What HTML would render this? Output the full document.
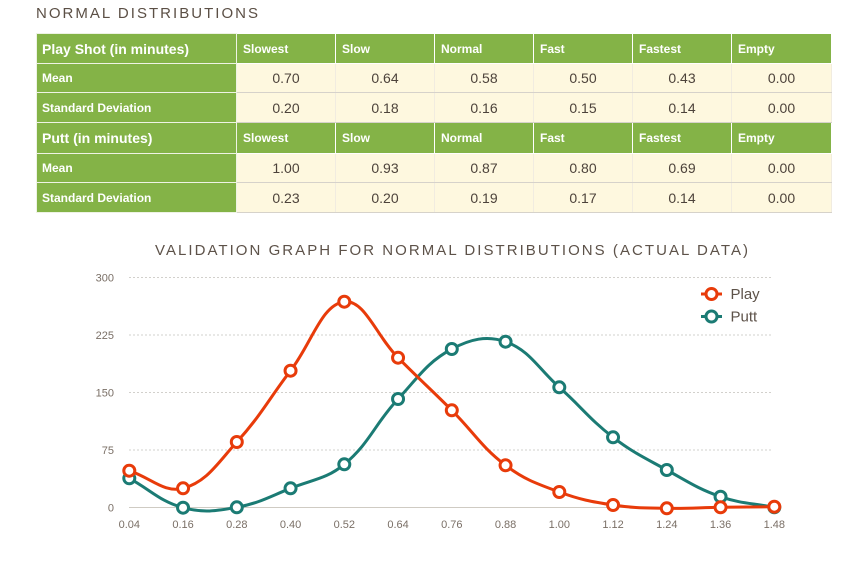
<!DOCTYPE html>
<html><head><meta charset="utf-8">
<style>
html,body{margin:0;padding:0;background:#fff;}
body{width:850px;height:584px;position:relative;overflow:hidden;font-family:"Liberation Sans",sans-serif;}
table{position:absolute;left:36px;top:33px;width:795px;border-collapse:collapse;table-layout:fixed;}
td{padding:0;vertical-align:middle;white-space:nowrap;overflow:hidden;}
td.g{background:#84b347;color:#fff;border:1px solid #eef3e4;padding-left:5px;font-weight:bold;font-size:12px;}
td.h{font-size:14px;}
td.c{background:#84b347;color:#fff;border:1px solid #ffffff;padding-left:6px;font-weight:bold;font-size:12px;}
td.v{background:#fef8df;color:#4d433b;text-align:center;font-size:14px;border-top:1px solid #d6d2ca;border-bottom:1px solid #d6d2ca;border-left:1px solid #f1ece0;border-right:1px solid #f1ece0;}
svg{position:absolute;left:0;top:0;}
</style></head><body>
<table>
<colgroup><col style="width:200px"><col style="width:99px"><col style="width:99px"><col style="width:99px"><col style="width:99px"><col style="width:99px"><col style="width:100px"></colgroup>
<tr style="height:30px"><td class="g h">Play Shot (in minutes)</td><td class="c">Slowest</td><td class="c">Slow</td><td class="c">Normal</td><td class="c">Fast</td><td class="c">Fastest</td><td class="c">Empty</td></tr>
<tr style="height:29px"><td class="g">Mean</td><td class="v">0.70</td><td class="v">0.64</td><td class="v">0.58</td><td class="v">0.50</td><td class="v">0.43</td><td class="v">0.00</td></tr>
<tr style="height:30px"><td class="g">Standard Deviation</td><td class="v">0.20</td><td class="v">0.18</td><td class="v">0.16</td><td class="v">0.15</td><td class="v">0.14</td><td class="v">0.00</td></tr>
<tr style="height:31px"><td class="g h">Putt (in minutes)</td><td class="c">Slowest</td><td class="c">Slow</td><td class="c">Normal</td><td class="c">Fast</td><td class="c">Fastest</td><td class="c">Empty</td></tr>
<tr style="height:29px"><td class="g">Mean</td><td class="v">1.00</td><td class="v">0.93</td><td class="v">0.87</td><td class="v">0.80</td><td class="v">0.69</td><td class="v">0.00</td></tr>
<tr style="height:30px"><td class="g">Standard Deviation</td><td class="v">0.23</td><td class="v">0.20</td><td class="v">0.19</td><td class="v">0.17</td><td class="v">0.14</td><td class="v">0.00</td></tr>
</table>

<svg width="850" height="584" viewBox="0 0 850 584" xmlns="http://www.w3.org/2000/svg" font-family="Liberation Sans, sans-serif">
  <text x="36" y="18" font-size="15" fill="#5b4f45" textLength="222" lengthAdjust="spacing">NORMAL DISTRIBUTIONS</text>
  <text x="155" y="255" font-size="15" fill="#5d5249" textLength="593" lengthAdjust="spacing">VALIDATION GRAPH FOR NORMAL DISTRIBUTIONS (ACTUAL DATA)</text>

  <g stroke="#d2d0cc" stroke-width="1" stroke-dasharray="2,2">
    <line x1="129" y1="277.5" x2="773" y2="277.5"/>
    <line x1="129" y1="335" x2="773" y2="335"/>
    <line x1="129" y1="392.5" x2="773" y2="392.5"/>
    <line x1="129" y1="450" x2="773" y2="450"/>
  </g>
  <line x1="129" y1="507.5" x2="773" y2="507.5" stroke="#cfcbc3" stroke-width="1"/>

  <g font-size="11" fill="#7a6f66" text-anchor="end">
    <text x="114" y="281.5">300</text>
    <text x="114" y="339">225</text>
    <text x="114" y="396.5">150</text>
    <text x="114" y="454">75</text>
    <text x="114" y="511.5">0</text>
  </g>
  <g font-size="11" fill="#7a6f66" text-anchor="middle">
    <text x="129.3" y="528">0.04</text>
    <text x="183.05" y="528">0.16</text>
    <text x="236.8" y="528">0.28</text>
    <text x="290.55" y="528">0.40</text>
    <text x="344.3" y="528">0.52</text>
    <text x="398.05" y="528">0.64</text>
    <text x="451.8" y="528">0.76</text>
    <text x="505.55" y="528">0.88</text>
    <text x="559.3" y="528">1.00</text>
    <text x="613.05" y="528">1.12</text>
    <text x="666.8" y="528">1.24</text>
    <text x="720.55" y="528">1.36</text>
    <text x="774.3" y="528">1.48</text>
  </g>

  <path id="puttLine" d="" fill="none" stroke="#1b7b74" stroke-width="3"/>
  <g id="puttMarks" fill="#fff" stroke="#1b7b74" stroke-width="3"></g>
  <path id="playLine" d="" fill="none" stroke="#e83b0a" stroke-width="3"/>
  <g id="playMarks" fill="#fff" stroke="#e83b0a" stroke-width="3"></g>

  <!-- legend -->
  <line x1="701" y1="294" x2="722" y2="294" stroke="#e83b0a" stroke-width="3"/>
  <circle cx="711.5" cy="294" r="5.5" fill="#fff" stroke="#e83b0a" stroke-width="3"/>
  <text x="730.5" y="299" font-size="15" fill="#5d5249">Play</text>
  <line x1="701" y1="316.5" x2="722" y2="316.5" stroke="#1b7b74" stroke-width="3"/>
  <circle cx="711.5" cy="316.5" r="5.5" fill="#fff" stroke="#1b7b74" stroke-width="3"/>
  <text x="730.5" y="321.5" font-size="15" fill="#5d5249">Putt</text>
</svg>

<script>
(function(){
  var NS="http://www.w3.org/2000/svg";
  var xs=[];for(var i=0;i<13;i++)xs.push(129.3+i*53.75);
  var play=[470.7,488.3,442,370.7,301.7,357.7,410.3,465.3,492,505,508.3,507.3,506.7];
  var putt=[478.3,507.7,507.3,488.3,464.3,399,349,341.7,387.3,437.3,470,496.7,507.3];
  function build(ys){
    var p=xs.map(function(x,i){return {x:x,y:ys[i]};});
    var t=0.4,cpP=[],cpN=[];
    for(var i=0;i<p.length;i++){
      var c=p[i],pr=p[i-1]||c,nx=p[i+1]||c;
      var d01=Math.hypot(c.x-pr.x,c.y-pr.y),d12=Math.hypot(nx.x-c.x,nx.y-c.y);
      var s01=d01/(d01+d12),s12=d12/(d01+d12);
      if(isNaN(s01))s01=0;if(isNaN(s12))s12=0;
      var fa=t*s01,fb=t*s12;
      cpP.push({x:c.x-fa*(nx.x-pr.x),y:c.y-fa*(nx.y-pr.y)});
      cpN.push({x:c.x+fb*(nx.x-pr.x),y:c.y+fb*(nx.y-pr.y)});
    }
    var d="M"+p[0].x+","+p[0].y;
    for(var i=1;i<p.length;i++){
      d+=" C"+cpN[i-1].x.toFixed(2)+","+cpN[i-1].y.toFixed(2)+" "+cpP[i].x.toFixed(2)+","+cpP[i].y.toFixed(2)+" "+p[i].x.toFixed(2)+","+p[i].y.toFixed(2);
    }
    return d;
  }
  function marks(id,ys){
    var g=document.getElementById(id);
    for(var i=0;i<xs.length;i++){
      var c=document.createElementNS(NS,"circle");
      c.setAttribute("cx",xs[i]);c.setAttribute("cy",ys[i]);c.setAttribute("r","5.5");
      g.appendChild(c);
    }
  }
  document.getElementById("puttLine").setAttribute("d",build(putt));
  document.getElementById("playLine").setAttribute("d",build(play));
  marks("puttMarks",putt);
  marks("playMarks",play);
})();
</script>
</body></html>
